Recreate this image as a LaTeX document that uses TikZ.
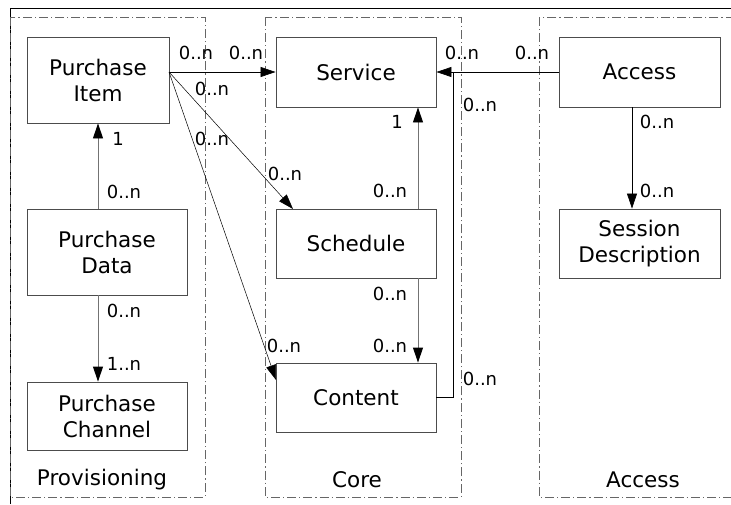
\documentclass[tikz,border=0pt]{standalone}
\usepackage{fontspec}
\setmainfont{DejaVu Sans}
\usetikzlibrary{arrows.meta}
\begin{document}
\begin{tikzpicture}[x=1pt,y=-1pt,
  box/.style={draw=black!70, line width=0.9pt, fill=white, inner sep=0pt, align=center,
    font=\fontsize{21.5}{26}\selectfont},
  grp/.style={draw=black!60, line width=0.8pt, dash pattern=on 9pt off 3pt on 1.2pt off 3pt},
  grplbl/.style={inner sep=0pt, font=\fontsize{21.5}{26}\selectfont},
  lbl/.style={inner sep=0pt, font=\fontsize{18}{21}\selectfont},
  tip/.style={-{Triangle[length=15pt,width=10pt,color=black]}},
  conn/.style={tip, line width=0.7pt, draw=black},
  gconn/.style={tip, line width=0.9pt, draw=black!55},
  thin/.style={tip, line width=0.5pt, draw=black}]
\useasboundingbox (0,0) rectangle (731,504);
% frame
\draw[line width=1pt, black] (10,504) -- (10,8) -- (731,8);
% groups
\draw[grp] (10,17) rectangle (205,497);
\draw[grp] (265,17) rectangle (461,497);
\draw[grp] (539,17) rectangle (740,497);
\node[grplbl] (provlbl) at (102,480) {Provisioning};
\node[grplbl] (corelbl) at (357,480) {Core};
\node[grplbl] (acclbl) at (643,480) {Access};
% boxes
\node[box, minimum width=142pt, minimum height=86pt] (pi) at (98,80) {Purchase\\Item};
\node[box, minimum width=160pt, minimum height=86pt] (pd) at (107,252) {Purchase\\Data};
\node[box, minimum width=160pt, minimum height=68pt] (pc) at (107,416) {Purchase\\Channel};
\node[box, minimum width=160pt, minimum height=70pt] (svc) at (356,72) {Service};
\node[box, minimum width=160pt, minimum height=69pt] (sch) at (356,243.5) {Schedule};
\node[box, minimum width=160pt, minimum height=69pt] (con) at (356,397.5) {Content};
\node[box, minimum width=161pt, minimum height=70pt] (acc) at (639.5,72) {Access};
\node[box, minimum width=161pt, minimum height=69pt] (ses) at (639.5,243.5) {Session\\Description};
% connector anchors
\coordinate (pis) at (169,72);
\coordinate (schin) at (293,209);
\coordinate (conin) at (276,380);
\coordinate (join) at (453,72);
% connectors
\draw[gconn] (pd.north -| 98,0) -- (pi.south -| 98,0);
\draw[gconn] (pd.south -| 98,0) -- (pc.north -| 98,0);
\draw[conn] (pis) -- (svc.west);
\draw[thin] (pis) -- (schin);
\draw[thin] (pis) -- (conin);
\draw[gconn] (sch.north -| 418,0) -- (svc.south -| 418,0);
\draw[gconn] (sch.south -| 418,0) -- (con.north -| 418,0);
\draw[line width=0.7pt] (con.east) -| (join);
\draw[conn] (acc.west) -- (svc.east);
\draw[conn] (acc.south -| 632,0) -- (ses.north -| 632,0);
% labels
\node[lbl] (l1) at (196,53) {0..n};
\node[lbl] (l2) at (246,53) {0..n};
\node[lbl] (l3) at (212,89) {0..n};
\node[lbl] (l4) at (212,139) {0..n};
\node[lbl] (l5) at (118,139) {1};
\node[lbl] (l6) at (124,192) {0..n};
\node[lbl] (l7) at (124,311) {0..n};
\node[lbl] (l8) at (124,364) {1..n};
\node[lbl] (l9) at (285,174) {0..n};
\node[lbl] (l10) at (397,122) {1};
\node[lbl] (l11) at (390,191) {0..n};
\node[lbl] (l12) at (390,294) {0..n};
\node[lbl] (l13) at (390,346) {0..n};
\node[lbl] (l14) at (284,346) {0..n};
\node[lbl] (l15) at (480,379) {0..n};
\node[lbl] (l16) at (462,53) {0..n};
\node[lbl] (l17) at (480,105) {0..n};
\node[lbl] (l18) at (532,53) {0..n};
\node[lbl] (l19) at (657,122) {0..n};
\node[lbl] (l20) at (657,191) {0..n};
\end{tikzpicture}
\end{document}
